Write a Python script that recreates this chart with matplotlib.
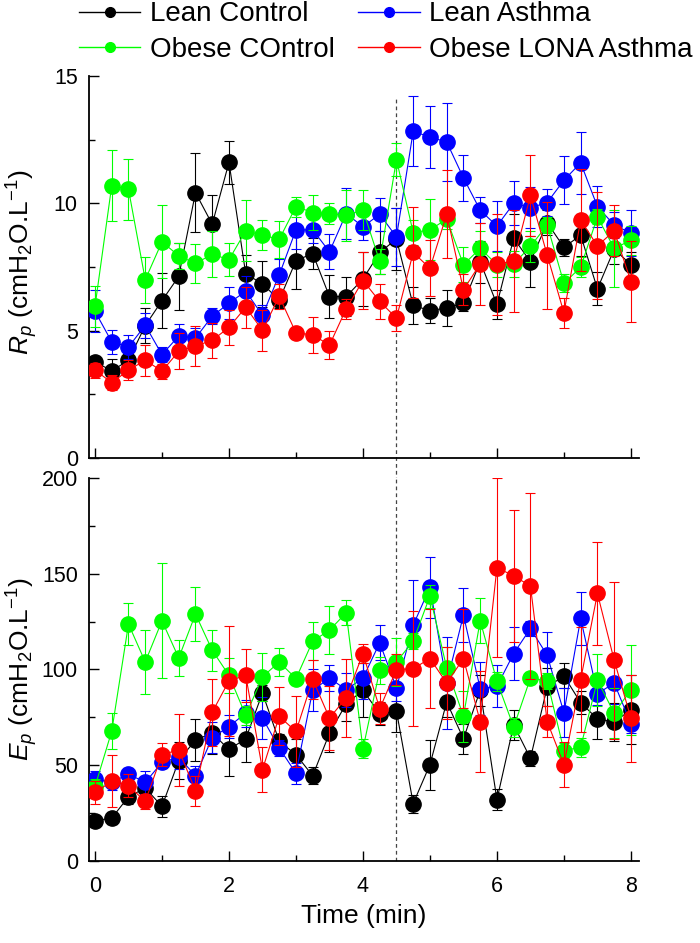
import matplotlib
matplotlib.use("Agg")
import matplotlib.pyplot as plt
from matplotlib.lines import Line2D
from matplotlib.ticker import MultipleLocator

time_min = [0.0, 0.25, 0.5, 0.75, 1.0, 1.25, 1.5, 1.75, 2.0, 2.25, 2.5, 2.75,
            3.0, 3.25, 3.5, 3.75, 4.0, 4.25, 4.5, 4.75, 5.0, 5.25, 5.5, 5.75,
            6.0, 6.25, 6.5, 6.75, 7.0, 7.25, 7.5, 7.75, 8.0]

groups = ["Lean Control", "Lean Asthma", "Obese COntrol", "Obese LONA Asthma"]
colors = ["#000000", "#0000ff", "#00ff00", "#ff0000"]
zorders = [2, 3, 4, 5]

# Rp (cmH2O.L-1)
rp_lean_ctrl = [3.78, 3.42, 3.84, 5.2, 6.18, 7.13, 10.42, 9.18, 11.61, 7.23, 6.84, 6.2,
                7.75, 8.03, 6.34, 6.34, 7.03, 8.07, 8.6, 5.99, 5.79, 5.89, 6.08, 7.71,
                6.03, 8.63, 7.71, 9.24, 8.27, 8.75, 6.64, 8.2, 7.59]
rp_lean_ctrl_err = [0.2, 0.45, 0.3, 0.68, 1.07, 1.33, 1.56, 1.13, 0.85, 0.74, 0.9, 0.3,
                    1.1, 0.62, 0.85, 0.75, 1.05, 0.85, 1.2, 0.72, 0.5, 0.72, 0.3, 0.82,
                    0.57, 0.96, 1.0, 0.5, 0.33, 0.82, 0.65, 0.6, 0.5]
rp_lean_asth = [5.76, 4.56, 4.36, 5.21, 4.06, 4.79, 4.71, 5.57, 6.08, 6.55, 5.6, 7.19,
                8.96, 8.96, 8.1, 9.6, 9.08, 9.57, 8.68, 12.83, 12.6, 12.41, 11.0, 9.73,
                9.11, 10.0, 9.83, 10.03, 10.91, 11.59, 9.87, 9.15, 8.83]
rp_lean_asth_err = [0.82, 0.46, 0.46, 0.5, 0.3, 0.48, 0.4, 0.31, 0.63, 0.6, 0.4, 0.63,
                    0.76, 0.5, 0.69, 1.0, 0.5, 0.65, 1.13, 1.37, 1.22, 1.52, 0.91, 0.5,
                    0.98, 0.87, 0.8, 0.52, 0.94, 1.21, 0.8, 0.5, 0.91]
rp_obese_ctrl = [5.95, 10.7, 10.55, 7.0, 8.49, 7.94, 7.64, 8.0, 7.79, 8.92, 8.75, 8.59,
                 9.87, 9.64, 9.6, 9.53, 9.74, 7.72, 11.72, 8.85, 8.96, 9.38, 7.59, 8.23,
                 7.59, 7.62, 8.31, 9.15, 6.86, 7.49, 9.47, 8.23, 8.55]
rp_obese_ctrl_err = [0.82, 1.41, 1.21, 0.91, 1.43, 0.5, 0.75, 0.9, 0.64, 1.2, 0.59, 0.72,
                     0.39, 0.68, 0.43, 1.0, 0.78, 0.5, 0.65, 0.5, 1.2, 0.4, 0.68, 0.7,
                     0.5, 0.5, 0.6, 0.3, 0.35, 0.4, 0.3, 1.52, 0.56]
rp_obese_asth = [3.45, 2.96, 3.45, 3.84, 3.41, 4.19, 4.4, 4.62, 5.13, 5.92, 5.01, 6.35,
                 4.91, 4.84, 4.43, 5.86, 6.97, 6.15, 5.49, 8.07, 7.45, 9.57, 6.61, 7.62,
                 7.6, 7.75, 10.31, 7.97, 5.7, 9.34, 8.33, 8.92, 6.93]
rp_obese_asth_err = [0.3, 0.3, 0.4, 0.6, 0.3, 0.7, 0.8, 0.7, 0.7, 0.8, 0.8, 0.5,
                     0.2, 0.7, 0.55, 0.4, 1.1, 0.7, 0.5, 1.78, 1.1, 1.73, 0.6, 1.6,
                     2.0, 2.0, 1.6, 2.1, 0.6, 2.0, 2.1, 1.0, 1.6]

# Ep (cmH2O.L-1)
ep_lean_ctrl = [21.0, 22.4, 33.5, 38.1, 28.5, 52.4, 63.2, 66.7, 58.2, 63.8, 87.7, 62.5,
                55.5, 44.5, 66.7, 82.1, 89.1, 76.9, 78.3, 30.0, 50.3, 83.0, 63.8, 89.1,
                32.0, 71.0, 53.6, 90.8, 96.6, 82.6, 74.2, 72.5, 79.0]
ep_lean_ctrl_err = [2, 3, 4, 4, 5.4, 9.6, 11, 10.8, 13.6, 12.2, 4, 4,
                    8, 4.4, 10, 9, 14, 6, 11, 4.7, 13, 8, 7.9, 8,
                    5.4, 8, 3.8, 10, 6.5, 6, 10.5, 10, 18]
ep_lean_asth = [42.8, 41.0, 45.4, 41.0, 51.5, 54.1, 44.5, 64.3, 70.2, 77.2, 74.6, 59.0,
                45.8, 89.1, 95.5, 89.4, 95.5, 113.9, 90.3, 123.1, 142.9, 92.9, 128.4, 90.0,
                91.2, 108.3, 121.4, 107.4, 77.4, 126.6, 87.3, 92.9, 71.6]
ep_lean_asth_err = [4, 4, 3, 6, 3, 6, 5, 8, 6, 7, 10.8, 4,
                    5.6, 11, 7, 9, 11, 9.2, 7, 23.6, 16, 24, 14, 14,
                    11, 14, 4, 12, 12.8, 13.6, 6, 11, 5]
ep_obese_ctrl = [38.8, 67.8, 123.7, 103.9, 125.4, 106.0, 128.9, 110.0, 96.9, 76.0, 96.1, 103.9,
                 95.2, 114.8, 120.5, 129.6, 58.5, 99.6, 103.9, 114.8, 138.3, 100.8, 75.6, 125.4,
                 93.8, 69.9, 95.5, 94.0, 57.6, 59.4, 94.3, 77.2, 89.4]
ep_obese_ctrl_err = [4, 9.4, 11.2, 16.8, 30, 9.2, 14.3, 10.8, 9, 5, 12.7, 7.5,
                     3, 9.8, 12.7, 6.6, 5, 7, 12.6, 4, 6, 11, 13.4, 11.7,
                     5, 5, 3, 4, 4, 5, 13.5, 12.9, 23.6]
ep_obese_asth = [35.8, 41.6, 39.3, 31.1, 55.5, 58.0, 36.7, 77.7, 94.0, 96.9, 47.7, 75.5,
                 67.6, 94.8, 74.6, 85.2, 108.3, 79.5, 99.9, 100.4, 105.7, 92.9, 105.7, 72.8,
                 153.2, 148.8, 143.6, 72.8, 50.3, 94.7, 139.7, 104.8, 74.6]
ep_obese_asth_err = [6, 13.6, 6, 4, 6, 18.9, 7.9, 17.5, 28.5, 14, 11.9, 15.2,
                     18.5, 10, 16.6, 20.4, 5, 8, 8, 30, 25.8, 19, 26, 26.5,
                     46.5, 34.6, 48.6, 8, 11.9, 27.6, 27, 41, 22.7]

rp_values = [rp_lean_ctrl, rp_lean_asth, rp_obese_ctrl, rp_obese_asth]
rp_errors = [rp_lean_ctrl_err, rp_lean_asth_err, rp_obese_ctrl_err, rp_obese_asth_err]
ep_values = [ep_lean_ctrl, ep_lean_asth, ep_obese_ctrl, ep_obese_asth]
ep_errors = [ep_lean_ctrl_err, ep_lean_asth_err, ep_obese_ctrl_err, ep_obese_asth_err]


def style_axis(ax, ymax, ymajor, yminor, show_xlabels):
    ax.set_xlim(-0.09, 8.12)
    ax.set_ylim(0, ymax)
    ax.xaxis.set_major_locator(MultipleLocator(2))
    ax.xaxis.set_minor_locator(MultipleLocator(1))
    ax.yaxis.set_major_locator(MultipleLocator(ymajor))
    ax.yaxis.set_minor_locator(MultipleLocator(yminor))
    ax.spines["top"].set_visible(False)
    ax.spines["right"].set_visible(False)
    ax.spines["left"].set_linewidth(1.3)
    ax.spines["bottom"].set_linewidth(1.3)
    ax.tick_params(which="major", direction="in", length=7, width=1, labelsize=15.5)
    ax.tick_params(which="minor", direction="in", length=4, width=1)
    ax.tick_params(axis="y", which="major", pad=8)
    ax.tick_params(axis="x", which="major", pad=11, labelbottom=show_xlabels)


def main():
    plt.rcParams["font.family"] = ["Liberation Sans", "DejaVu Sans"]
    plt.rcParams["mathtext.fontset"] = "custom"
    plt.rcParams["mathtext.rm"] = "Liberation Sans"
    plt.rcParams["mathtext.it"] = "Liberation Sans:italic"

    fig = plt.figure(figsize=(7.0, 9.43), dpi=100)
    ax_top = fig.add_axes([0.1271, 0.5143, 0.7857, 0.4051])
    ax_bot = fig.add_axes([0.1271, 0.0870, 0.7857, 0.4062])

    for ax, vals, errs in [(ax_top, rp_values, rp_errors), (ax_bot, ep_values, ep_errors)]:
        for y, e, c, z in zip(vals, errs, colors, zorders):
            ax.errorbar(time_min, y, yerr=e, color=c, marker="o", markersize=11,
                        lw=0.8, elinewidth=0.8, capsize=3.5, capthick=0.8, zorder=z)

    style_axis(ax_top, 15, 5, 2.5, False)
    style_axis(ax_bot, 200, 50, 25, True)

    # stimulus marker across both panels
    ax_top.axvline(4.5, ymin=-0.06, ymax=0.945, color="#444444", lw=0.9,
                   ls=(0, (3, 2.5)), clip_on=False, zorder=1)
    ax_bot.axvline(4.5, color="#444444", lw=0.9, ls=(0, (3, 2.5)), zorder=1)

    fig.text(22 / 700, 1 - 262 / 943, r"$R_p$ (cmH$_2$O.L$^{-1}$)", rotation=90,
             ha="center", va="center", fontsize=19)
    fig.text(22 / 700, 1 - 669 / 943, r"$E_p$ (cmH$_2$O.L$^{-1}$)", rotation=90,
             ha="center", va="center", fontsize=19)
    fig.text(364 / 700, 1 - 916 / 943, "Time (min)", ha="center", va="center", fontsize=19)

    handles = [Line2D([], [], color=c, marker="o", markersize=7, lw=1) for c in colors]
    order = [0, 2, 1, 3]
    fig.legend([handles[i] for i in order], [groups[i] for i in order], ncol=2,
               loc="center", bbox_to_anchor=(386 / 700, 1 - 32 / 943), frameon=False,
               fontsize=20, handlelength=2.2, handletextpad=0.35, columnspacing=0.85,
               labelspacing=0.33, borderpad=0)
    return fig


if __name__ == "__main__":
    fig = main()
    fig.savefig("out.png", dpi=100)
